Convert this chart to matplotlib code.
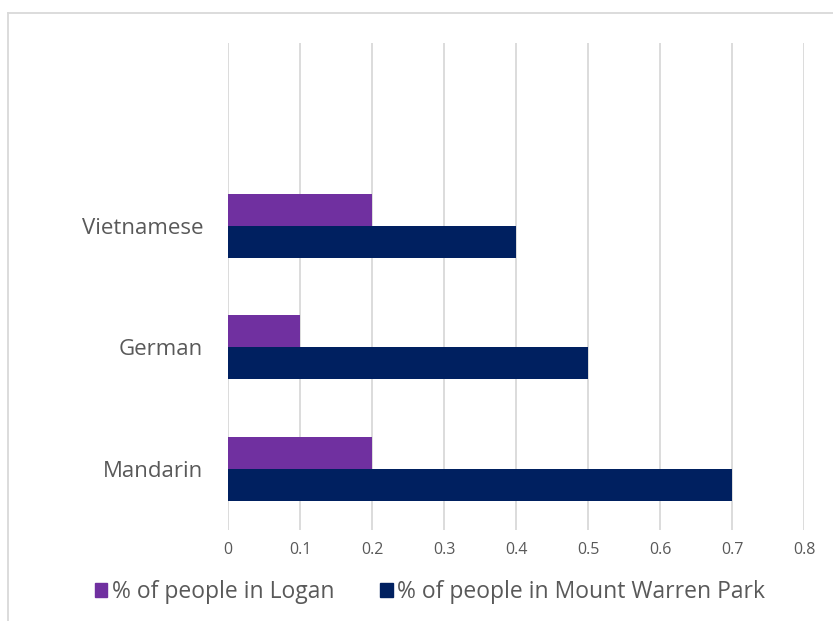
import matplotlib.pyplot as plt
import numpy as np
from matplotlib.lines import Line2D
from matplotlib.patches import Patch

# data (bottom to top, as drawn)
languages = ["Mandarin", "German", "Vietnamese"]
logan = [0.2, 0.1, 0.2]
mount_warren_park = [0.7, 0.5, 0.4]
xticks = [0, 0.1, 0.2, 0.3, 0.4, 0.5, 0.6, 0.7, 0.8]
xtick_labels = ["0", "0.1", "0.2", "0.3", "0.4", "0.5", "0.6", "0.7", "0.8"]

purple = "#7030A0"
navy = "#002060"
grey_txt = "#595959"

plt.rcParams['font.family'] = ['Open Sans', 'DejaVu Sans']

fig = plt.figure(figsize=(8.33, 6.21), dpi=100)
ax = fig.add_axes([228 / 833, 1 - 530 / 621, (804 - 228) / 833, (530 - 43) / 621])

y = np.arange(len(languages))
h = 0.262
ax.barh(y + h / 2, logan, height=h, color=purple, zorder=3)
ax.barh(y - h / 2, mount_warren_park, height=h, color=navy, zorder=3)

ax.set_xlim(0, 0.8)
ax.set_ylim(-0.5, 3.5)
ax.set_xticks(xticks)
ax.set_xticklabels(xtick_labels, color=grey_txt, fontsize=11.5)
ax.set_yticks(y)
ax.set_yticklabels(languages, color=grey_txt, fontsize=16)
ax.tick_params(axis='both', length=0)
ax.tick_params(axis='x', pad=9)
ax.tick_params(axis='y', pad=18)
ax.grid(axis='x', color="#D9D9D9", linewidth=1.3, zorder=0)
for s in ax.spines.values():
    s.set_visible(False)

handles = [Patch(color=purple, label="% of people in Logan"),
           Patch(color=navy, label="% of people in Mount Warren Park")]
fig.legend(handles=handles, loc="center", bbox_to_anchor=(430 / 833, 1 - 592 / 621),
           ncol=2, frameon=False, fontsize=16.5, labelcolor=grey_txt,
           handlelength=0.55, handleheight=0.55, handletextpad=0.2, columnspacing=2.0)

# chart frame (top and left edges visible)
fig.add_artist(Line2D([8 / 833, 1], [1 - 13 / 621, 1 - 13 / 621], color="#D9D9D9", linewidth=1.3))
fig.add_artist(Line2D([8 / 833, 8 / 833], [0, 1 - 13 / 621], color="#D9D9D9", linewidth=1.3))

fig.savefig("out.png", dpi=100)
